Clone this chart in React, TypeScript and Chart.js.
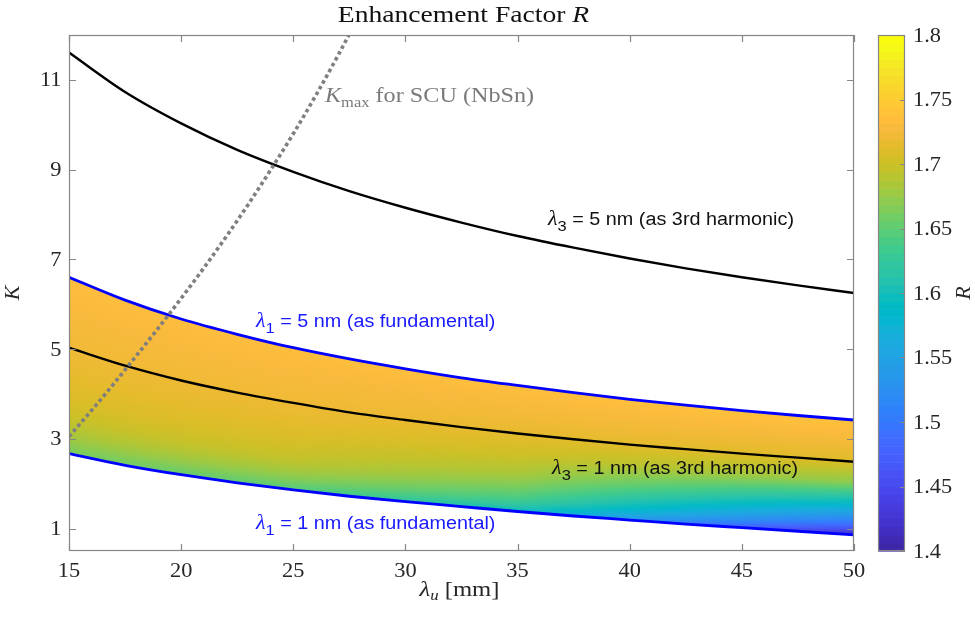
import React, { useEffect, useRef } from 'react';
import { Chart, registerables } from 'chart.js';

Chart.register(...registerables);

// ---------------- data ----------------
const lambdaU = [15, 17.5, 20, 22.5, 25, 27.5, 30, 32.5, 35, 37.5, 40, 42.5, 45, 47.5, 50];
const kFund5nm = [6.6, 6.09, 5.67, 5.33, 5.03, 4.78, 4.56, 4.36, 4.19, 4.03, 3.88, 3.75, 3.63, 3.52, 3.42];
const kFund1nm = [2.67, 2.41, 2.2, 2.02, 1.86, 1.72, 1.6, 1.49, 1.38, 1.28, 1.19, 1.1, 1.02, 0.94, 0.86];
const kHarm5nm = [11.61, 10.73, 10.03, 9.44, 8.95, 8.52, 8.15, 7.82, 7.52, 7.26, 7.02, 6.8, 6.6, 6.42, 6.25];
const kHarm1nm = [5.03, 4.63, 4.3, 4.03, 3.8, 3.59, 3.42, 3.26, 3.12, 2.99, 2.87, 2.77, 2.67, 2.58, 2.49];
const kmaxLambdaU = [15, 16, 17, 18, 19, 20, 21, 22, 23, 24, 25, 26, 27, 28];
const kmaxValues = [3.05, 3.63, 4.23, 4.85, 5.48, 6.13, 6.8, 7.5, 8.23, 9.0, 9.8, 10.65, 11.55, 12.5];

const xTicks = [15, 20, 25, 30, 35, 40, 45, 50];
const yTicks = [1, 3, 5, 7, 9, 11];
const rTicks = [1.4, 1.45, 1.5, 1.55, 1.6, 1.65, 1.7, 1.75, 1.8];

// enhancement factor R across the band: fraction between lower (0) and upper (1) curve
const rFrac = [0, 0.05, 0.1, 0.2, 0.3, 0.45, 0.65, 1];
const rColumns = [15, 25, 35, 50];
const rAt15 = [1.662, 1.672, 1.684, 1.7, 1.71, 1.718, 1.726, 1.735];
const rAt25 = [1.645, 1.66, 1.675, 1.695, 1.705, 1.715, 1.725, 1.736];
const rAt35 = [1.59, 1.62, 1.64, 1.665, 1.685, 1.703, 1.72, 1.738];
const rAt50 = [1.41, 1.455, 1.495, 1.55, 1.6, 1.67, 1.714, 1.742];
const rTable = [rAt15, rAt25, rAt35, rAt50];

const R_MIN = 1.4;
const R_MAX = 1.8;

// parula colormap (64 entries)
const PARULA: number[][] = [
  [0.2422, 0.1504, 0.6603], [0.2504, 0.165, 0.7076], [0.2578, 0.1818, 0.7511], [0.2647, 0.1978, 0.7952],
  [0.2706, 0.2147, 0.8364], [0.2751, 0.2342, 0.871], [0.2783, 0.2559, 0.8991], [0.2803, 0.2782, 0.9221],
  [0.2813, 0.3006, 0.9414], [0.281, 0.3228, 0.9579], [0.2795, 0.3447, 0.9717], [0.276, 0.3667, 0.9829],
  [0.2699, 0.3892, 0.9906], [0.2602, 0.4123, 0.9952], [0.244, 0.4358, 0.9988], [0.2206, 0.4603, 0.9973],
  [0.1963, 0.4847, 0.9892], [0.1834, 0.5074, 0.9798], [0.1786, 0.5289, 0.9682], [0.1764, 0.5499, 0.952],
  [0.1687, 0.5703, 0.9359], [0.154, 0.5902, 0.9218], [0.146, 0.6091, 0.9079], [0.138, 0.6276, 0.8973],
  [0.1248, 0.6459, 0.8883], [0.1113, 0.6635, 0.8763], [0.0952, 0.6798, 0.8598], [0.0689, 0.6948, 0.8394],
  [0.0297, 0.7082, 0.8163], [0.0036, 0.7203, 0.7917], [0.0067, 0.7312, 0.766], [0.0433, 0.7411, 0.7394],
  [0.0964, 0.75, 0.712], [0.1408, 0.7584, 0.6842], [0.1717, 0.767, 0.6554], [0.1938, 0.7758, 0.6251],
  [0.2161, 0.7843, 0.5923], [0.247, 0.7918, 0.5567], [0.2906, 0.7973, 0.5188], [0.3406, 0.8008, 0.4789],
  [0.3909, 0.8029, 0.4354], [0.4456, 0.8024, 0.3909], [0.5044, 0.7993, 0.348], [0.5616, 0.7942, 0.3045],
  [0.6174, 0.7876, 0.2612], [0.672, 0.7793, 0.2227], [0.7242, 0.7698, 0.191], [0.7738, 0.7598, 0.1646],
  [0.8203, 0.7498, 0.1535], [0.8634, 0.7406, 0.1596], [0.9035, 0.733, 0.1774], [0.9393, 0.7288, 0.21],
  [0.9728, 0.7298, 0.2394], [0.9956, 0.7434, 0.2371], [0.997, 0.7659, 0.2199], [0.9952, 0.7893, 0.2028],
  [0.9892, 0.8136, 0.1885], [0.9808, 0.8394, 0.1778], [0.9739, 0.8647, 0.1705], [0.9639, 0.8902, 0.1556],
  [0.9604, 0.9173, 0.1332], [0.9617, 0.9446, 0.1089], [0.9655, 0.9718, 0.0822], [0.9763, 0.9831, 0.0538],
];

const W = 975;
const H = 619;
const SERIF = '"Liberation Serif", "Times New Roman", serif';
const SANS = '"Liberation Sans", Arial, sans-serif';
const AXIS_GRAY = '#868686';
const TEXT_DARK = '#262626';

function rgb(c: number[]) {
  return `rgb(${Math.round(c[0] * 255)},${Math.round(c[1] * 255)},${Math.round(c[2] * 255)})`;
}

function parulaColor(r: number) {
  const f = Math.min(1, Math.max(0, (r - R_MIN) / (R_MAX - R_MIN))) * 63;
  const i = Math.floor(f);
  const j = Math.min(63, i + 1);
  const u = f - i;
  const a = PARULA[i];
  const b = PARULA[j];
  return rgb([a[0] + (b[0] - a[0]) * u, a[1] + (b[1] - a[1]) * u, a[2] + (b[2] - a[2]) * u]);
}

function rField(x: number, t: number) {
  let ci = 0;
  while (ci < rColumns.length - 2 && x > rColumns[ci + 1]) ci++;
  const cu = Math.min(1, Math.max(0, (x - rColumns[ci]) / (rColumns[ci + 1] - rColumns[ci])));
  let fi = 0;
  while (fi < rFrac.length - 2 && t > rFrac[fi + 1]) fi++;
  const fu = Math.min(1, Math.max(0, (t - rFrac[fi]) / (rFrac[fi + 1] - rFrac[fi])));
  const colVal = (c: number) => rTable[c][fi] + (rTable[c][fi + 1] - rTable[c][fi]) * fu;
  return colVal(ci) + (colVal(ci + 1) - colVal(ci)) * cu;
}

type Part = { t: string; font: string; dy?: number; color?: string };

function drawParts(
  ctx: CanvasRenderingContext2D,
  parts: Part[],
  x: number,
  y: number,
  align: 'left' | 'center' | 'right',
  sx: number,
  color: string
) {
  ctx.save();
  ctx.textBaseline = 'alphabetic';
  ctx.textAlign = 'left';
  let w = 0;
  for (const p of parts) {
    ctx.font = p.font;
    w += ctx.measureText(p.t).width;
  }
  const total = w * sx;
  const start = align === 'left' ? x : align === 'center' ? x - total / 2 : x - total;
  ctx.translate(start, y);
  ctx.scale(sx, 1);
  let cx = 0;
  for (const p of parts) {
    ctx.font = p.font;
    ctx.fillStyle = p.color || color;
    ctx.fillText(p.t, cx, p.dy || 0);
    cx += ctx.measureText(p.t).width;
  }
  ctx.restore();
}

function yAt(el: any, pts: any[], x: number) {
  let r: any = null;
  try {
    r = el.interpolate({ x }, 'x');
  } catch (e) {
    r = null;
  }
  if (r && !Array.isArray(r) && isFinite(r.y)) return r.y;
  if (Array.isArray(r) && r.length && isFinite(r[0].y)) return r[0].y;
  for (let i = 0; i < pts.length - 1; i++) {
    if (x >= pts[i].x && x <= pts[i + 1].x) {
      const u = (x - pts[i].x) / (pts[i + 1].x - pts[i].x);
      return pts[i].y + u * (pts[i + 1].y - pts[i].y);
    }
  }
  return pts[pts.length - 1].y;
}

const bandPlugin = {
  id: 'bandFill',
  beforeDatasetsDraw(chart: any) {
    const ctx: CanvasRenderingContext2D = chart.ctx;
    const area = chart.chartArea;
    const upEl: any = chart.getDatasetMeta(3).dataset;
    const loEl: any = chart.getDatasetMeta(4).dataset;
    if (!upEl || !loEl) return;
    upEl.updateControlPoints(area, 'x');
    loEl.updateControlPoints(area, 'x');
    const upPts = upEl.points;
    const loPts = loEl.points;
    const xs = chart.scales.x;
    ctx.save();
    ctx.beginPath();
    ctx.rect(area.left, area.top, area.right - area.left, area.bottom - area.top);
    ctx.clip();
    ctx.beginPath();
    upEl.path(ctx);
    ctx.lineTo(upPts[upPts.length - 1].x, area.bottom + 100);
    ctx.lineTo(upPts[0].x, area.bottom + 100);
    ctx.closePath();
    ctx.clip();
    ctx.beginPath();
    loEl.path(ctx);
    ctx.lineTo(loPts[loPts.length - 1].x, area.top - 100);
    ctx.lineTo(loPts[0].x, area.top - 100);
    ctx.closePath();
    ctx.clip();
    const x0 = Math.floor(upPts[0].x);
    const x1 = Math.ceil(upPts[upPts.length - 1].x);
    for (let px = x0; px < x1; px++) {
      const cx = Math.min(Math.max(px + 0.5, upPts[0].x), upPts[upPts.length - 1].x);
      const yU = yAt(upEl, upPts, cx);
      const yL = yAt(loEl, loPts, cx);
      const xv = xs.getValueForPixel(cx);
      const g = ctx.createLinearGradient(0, yL, 0, yU);
      for (let k = 0; k <= 24; k++) {
        const t = k / 24;
        g.addColorStop(t, parulaColor(rField(xv, t)));
      }
      ctx.fillStyle = g;
      ctx.fillRect(px, yU - 4, 1, yL - yU + 8);
    }
    ctx.restore();
  },
};

const framePlugin = {
  id: 'frame',
  afterDraw(chart: any) {
    const ctx: CanvasRenderingContext2D = chart.ctx;
    const a = chart.chartArea;
    const xs = chart.scales.x;
    const ys = chart.scales.y;
    ctx.save();
    ctx.strokeStyle = AXIS_GRAY;
    ctx.lineWidth = 1.2;
    ctx.strokeRect(a.left + 0.5, a.top + 0.5, a.right - a.left - 1, a.bottom - a.top - 1);
    const TL = 7;
    ctx.beginPath();
    for (const t of xs.ticks) {
      const px = Math.round(xs.getPixelForValue(t.value)) + 0.5;
      ctx.moveTo(px, a.bottom);
      ctx.lineTo(px, a.bottom - TL);
      ctx.moveTo(px, a.top);
      ctx.lineTo(px, a.top + TL);
    }
    for (const t of ys.ticks) {
      const py = Math.round(ys.getPixelForValue(t.value)) + 0.5;
      ctx.moveTo(a.left, py);
      ctx.lineTo(a.left + TL, py);
      ctx.moveTo(a.right, py);
      ctx.lineTo(a.right - TL, py);
    }
    ctx.stroke();

    const tickFont = `20px ${SERIF}`;
    for (const t of xs.ticks) {
      const px = xs.getPixelForValue(t.value);
      drawParts(ctx, [{ t: String(t.value), font: tickFont }], px, a.bottom + 26, 'center', 1.12, TEXT_DARK);
    }
    for (const t of ys.ticks) {
      const py = ys.getPixelForValue(t.value);
      drawParts(ctx, [{ t: String(t.value), font: tickFont }], a.left - 7.5, py + 6.5, 'right', 1.12, TEXT_DARK);
    }

    const cxArea = (a.left + a.right) / 2;
    drawParts(
      ctx,
      [
        { t: 'Enhancement Factor ', font: `23px ${SERIF}` },
        { t: 'R', font: `italic 23px ${SERIF}` },
      ],
      cxArea + 2,
      21.5,
      'center',
      1.2,
      '#111'
    );
    drawParts(
      ctx,
      [
        { t: 'λ', font: `italic 22px ${SERIF}` },
        { t: 'u', font: `italic 15px ${SERIF}`, dy: 4 },
        { t: ' [mm]', font: `22px ${SERIF}` },
      ],
      cxArea - 2,
      596,
      'center',
      1.12,
      TEXT_DARK
    );
    ctx.save();
    ctx.translate(19, (a.top + a.bottom) / 2);
    ctx.rotate(-Math.PI / 2);
    drawParts(ctx, [{ t: 'K', font: `italic 22px ${SERIF}` }], 0, 0, 'center', 1, TEXT_DARK);
    ctx.restore();

    drawParts(
      ctx,
      [
        { t: 'K', font: `italic 22px ${SERIF}` },
        { t: 'max', font: `15px ${SERIF}`, dy: 5 },
        { t: ' for SCU (NbSn)', font: `22px ${SERIF}` },
      ],
      xs.getPixelForValue(26.41),
      ys.getPixelForValue(10.51),
      'left',
      1.1,
      '#7a7a7a'
    );

    const lab = (sub: string, rest: string, xv: number, yv: number, color: string) => {
      drawParts(
        ctx,
        [
          { t: 'λ', font: `italic 20px ${SERIF}` },
          { t: sub, font: `15px ${SANS}`, dy: 6 },
          { t: rest, font: `18px ${SANS}` },
        ],
        xs.getPixelForValue(xv),
        ys.getPixelForValue(yv),
        'left',
        1.1,
        color
      );
    };
    lab('3', ' = 5 nm (as 3rd harmonic)', 36.36, 7.77, '#111');
    lab('1', ' = 5 nm (as fundamental)', 23.34, 5.49, '#1a1aff');
    lab('3', ' = 1 nm (as 3rd harmonic)', 36.54, 2.216, '#111');
    lab('1', ' = 1 nm (as fundamental)', 23.34, 0.99, '#1a1aff');
    ctx.restore();
  },
};

const colorbarPlugin = {
  id: 'colorbar',
  afterDraw(chart: any) {
    const ctx: CanvasRenderingContext2D = chart.ctx;
    const a = chart.chartArea;
    const ys = chart.scales.y;
    ctx.save();
    for (let i = 0; i < 64; i++) {
      const y0 = ys.getPixelForValue(R_MIN + ((R_MAX - R_MIN) * i) / 64);
      const y1 = ys.getPixelForValue(R_MIN + ((R_MAX - R_MIN) * (i + 1)) / 64);
      ctx.fillStyle = rgb(PARULA[i]);
      ctx.fillRect(a.left, y1, a.right - a.left, y0 - y1 + 0.6);
    }
    ctx.strokeStyle = AXIS_GRAY;
    ctx.lineWidth = 1.2;
    ctx.strokeRect(a.left + 0.5, a.top + 0.5, a.right - a.left - 1, a.bottom - a.top - 1);
    ctx.beginPath();
    for (const t of ys.ticks) {
      const py = Math.round(ys.getPixelForValue(t.value)) + 0.5;
      ctx.moveTo(a.right, py);
      ctx.lineTo(a.right - 5, py);
    }
    ctx.stroke();
    for (const t of ys.ticks) {
      const py = ys.getPixelForValue(t.value);
      const label = String(Math.round(t.value * 100) / 100);
      drawParts(ctx, [{ t: label, font: `20px ${SERIF}` }], a.right + 8, py + 6.5, 'left', 1.12, TEXT_DARK);
    }
    ctx.save();
    ctx.translate(110, (a.top + a.bottom) / 2);
    ctx.rotate(-Math.PI / 2);
    drawParts(ctx, [{ t: 'R', font: `italic 22px ${SERIF}` }], 0, 0, 'center', 1, TEXT_DARK);
    ctx.restore();
    ctx.restore();
  },
};

function pts(xsArr: number[], ysArr: number[]) {
  return xsArr.map((x, i) => ({ x, y: ysArr[i] }));
}

export default function App() {
  const mainRef = useRef<HTMLCanvasElement>(null);
  const cbRef = useRef<HTMLCanvasElement>(null);

  useEffect(() => {
    document.body.style.margin = '0';
    const main = new Chart(mainRef.current as HTMLCanvasElement, {
      type: 'line',
      data: {
        datasets: [
          {
            label: 'Kmax for SCU (NbSn)',
            data: pts(kmaxLambdaU, kmaxValues),
            borderColor: '#7f7f7f',
            borderWidth: 3.6,
            borderDash: [3.6, 3.0],
            order: 0,
          } as any,
          {
            label: 'λ3 = 5 nm',
            data: pts(lambdaU, kHarm5nm),
            borderColor: '#000000',
            borderWidth: 2.4,
            order: 1,
          },
          {
            label: 'λ3 = 1 nm',
            data: pts(lambdaU, kHarm1nm),
            borderColor: '#000000',
            borderWidth: 2.4,
            order: 2,
          },
          {
            label: 'λ1 = 5 nm',
            data: pts(lambdaU, kFund5nm),
            borderColor: '#0000ff',
            borderWidth: 2.8,
            order: 3,
          },
          {
            label: 'λ1 = 1 nm',
            data: pts(lambdaU, kFund1nm),
            borderColor: '#0000ff',
            borderWidth: 2.8,
            order: 4,
          },
        ],
      },
      options: {
        responsive: false,
        animation: false,
        devicePixelRatio: 1,
        layout: { padding: { top: 35, right: 121, left: 0, bottom: 0 } },
        elements: {
          point: { radius: 0, hoverRadius: 0 },
          line: { cubicInterpolationMode: 'monotone', fill: false },
        },
        plugins: {
          legend: { display: false },
          tooltip: { enabled: false },
          title: { display: false },
        },
        events: [],
        scales: {
          x: {
            type: 'linear',
            min: 15,
            max: 50,
            grid: { display: false, drawTicks: false },
            border: { display: false },
            ticks: { display: false },
            afterBuildTicks: (s: any) => {
              s.ticks = xTicks.map((v) => ({ value: v }));
            },
            afterFit: (s: any) => {
              s.height = 68;
            },
          },
          y: {
            type: 'linear',
            min: 0.5,
            max: 12,
            grid: { display: false, drawTicks: false },
            border: { display: false },
            ticks: { display: false },
            afterBuildTicks: (s: any) => {
              s.ticks = yTicks.map((v) => ({ value: v }));
            },
            afterFit: (s: any) => {
              s.width = 69;
            },
          },
        },
      } as any,
      plugins: [bandPlugin, framePlugin],
    });

    const cb = new Chart(cbRef.current as HTMLCanvasElement, {
      type: 'line',
      data: { datasets: [] },
      options: {
        responsive: false,
        animation: false,
        devicePixelRatio: 1,
        layout: { padding: { top: 35, right: 0, left: 18, bottom: 68 } },
        plugins: { legend: { display: false }, tooltip: { enabled: false } },
        events: [],
        scales: {
          x: { type: 'linear', display: false, min: 0, max: 1 },
          y: {
            type: 'linear',
            position: 'right',
            min: R_MIN,
            max: R_MAX,
            grid: { display: false, drawTicks: false },
            border: { display: false },
            ticks: { display: false },
            afterBuildTicks: (s: any) => {
              s.ticks = rTicks.map((v) => ({ value: v }));
            },
            afterFit: (s: any) => {
              s.width = 70;
            },
          },
        },
      } as any,
      plugins: [colorbarPlugin],
    });

    return () => {
      main.destroy();
      cb.destroy();
    };
  }, []);

  return (
    <div style={{ position: 'relative', width: W, height: H, background: '#ffffff', overflow: 'hidden' }}>
      <canvas
        ref={mainRef}
        width={W}
        height={H}
        style={{ position: 'absolute', left: 0, top: 0, width: W, height: H }}
      />
      <canvas
        ref={cbRef}
        width={115}
        height={H}
        style={{ position: 'absolute', left: 860, top: 0, width: 115, height: H }}
      />
    </div>
  );
}
